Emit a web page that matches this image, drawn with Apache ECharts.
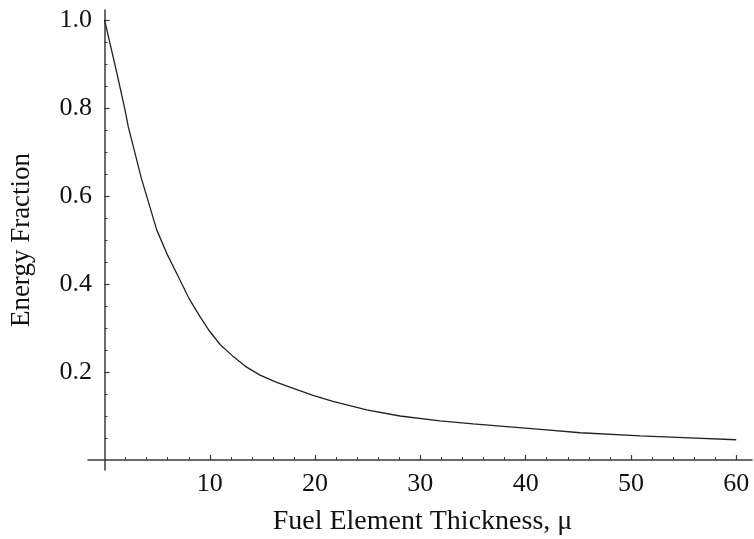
<!DOCTYPE html>
<html><head><meta charset="utf-8">
<script src="https://cdn.jsdelivr.net/npm/echarts@6/dist/echarts.min.js"></script>
<style>html,body{margin:0;padding:0;background:#fff}#c{width:754px;height:539px}</style>
</head><body><div id="c"></div>
<script>
// Data
const thickness = [0, 0.52, 1.25, 1.95, 2.26, 3.5, 4.96, 6.0, 7.0, 8.0, 9.07, 10, 11.0, 12.23, 13.5, 14.77, 16.3, 17.93, 19.8, 21.7, 24.9, 28.06, 31.86, 35.0, 38.2, 41.7, 45.2, 50.9, 55.0, 60];
const energyFraction = [1.0, 0.947, 0.871, 0.795, 0.757, 0.64, 0.523, 0.465, 0.417, 0.368, 0.326, 0.292, 0.262, 0.235, 0.211, 0.193, 0.177, 0.163, 0.147, 0.133, 0.114, 0.100, 0.089, 0.082, 0.076, 0.069, 0.062, 0.055, 0.051, 0.046];
const xMajorTicks = [10, 20, 30, 40, 50, 60];
const xMinorTicks = [2, 4, 6, 8, 12, 14, 16, 18, 22, 24, 26, 28, 32, 34, 36, 38, 42, 44, 46, 48, 52, 54, 56, 58];
const yMajorTicks = [0.2, 0.4, 0.6, 0.8, 1.0];
const yMinorTicks = [0.05, 0.1, 0.15, 0.25, 0.3, 0.35, 0.45, 0.5, 0.55, 0.65, 0.7, 0.75, 0.85, 0.9, 0.95];

const FONT = 'Liberation Serif';
const AXIS_COLOR = '#3a3a3a';
const TEXT_COLOR = '#111';
const X_MIN = -1.57, X_MAX = 61.5, Y_MIN = -0.0227, Y_MAX = 1.0227;

const chart = echarts.init(document.getElementById('c'), null, {renderer: 'canvas'});
chart.setOption({
  animation: false,
  backgroundColor: '#fff',
  grid: {left: 88, right: 2, top: 10, bottom: 69, containLabel: false, outerBoundsMode: 'none'},
  xAxis: [
    {
      type: 'value', min: X_MIN, max: X_MAX, position: 'bottom',
      name: 'Fuel Element Thickness, μ', nameLocation: 'middle', nameGap: 38,
      nameTextStyle: {fontFamily: FONT, fontSize: 28, color: TEXT_COLOR, padding: [0, 0, 0, 5]},
      axisLine: {show: true, onZero: true, onZeroAxisIndex: 0, lineStyle: {color: AXIS_COLOR, width: 1.5}},
      axisTick: {show: true, inside: true, length: 5, customValues: xMajorTicks, lineStyle: {color: AXIS_COLOR, width: 1.2}},
      axisLabel: {show: true, customValues: xMajorTicks, margin: 1, fontFamily: FONT, fontSize: 26, color: TEXT_COLOR},
      splitLine: {show: false}
    },
    {
      type: 'value', min: X_MIN, max: X_MAX, position: 'bottom',
      axisLine: {show: false, onZero: true, onZeroAxisIndex: 0},
      axisTick: {show: true, inside: true, length: 3, customValues: xMinorTicks, lineStyle: {color: AXIS_COLOR, width: 1}},
      axisLabel: {show: false},
      splitLine: {show: false}
    }
  ],
  yAxis: [
    {
      type: 'value', min: Y_MIN, max: Y_MAX, position: 'left',
      name: 'Energy Fraction', nameLocation: 'middle', nameGap: 53, nameRotate: 90,
      nameTextStyle: {fontFamily: FONT, fontSize: 27, color: TEXT_COLOR},
      axisLine: {show: true, onZero: true, onZeroAxisIndex: 0, lineStyle: {color: AXIS_COLOR, width: 1.5}},
      axisTick: {show: true, inside: true, length: 5, customValues: yMajorTicks, lineStyle: {color: AXIS_COLOR, width: 1.2}},
      axisLabel: {show: true, customValues: yMajorTicks, margin: -4, fontFamily: FONT, fontSize: 26, color: TEXT_COLOR,
        formatter: v => v.toFixed(1)},
      splitLine: {show: false}
    },
    {
      type: 'value', min: Y_MIN, max: Y_MAX, position: 'left',
      axisLine: {show: false, onZero: true, onZeroAxisIndex: 0},
      axisTick: {show: true, inside: true, length: 3, customValues: yMinorTicks, lineStyle: {color: AXIS_COLOR, width: 1}},
      axisLabel: {show: false},
      splitLine: {show: false}
    }
  ],
  series: [{
    type: 'line',
    xAxisIndex: 0, yAxisIndex: 0,
    data: thickness.map((x, i) => [x, energyFraction[i]]),
    showSymbol: false,
    smooth: false,
    lineStyle: {color: '#222', width: 1.3}
  }]
});
</script>
</body></html>
